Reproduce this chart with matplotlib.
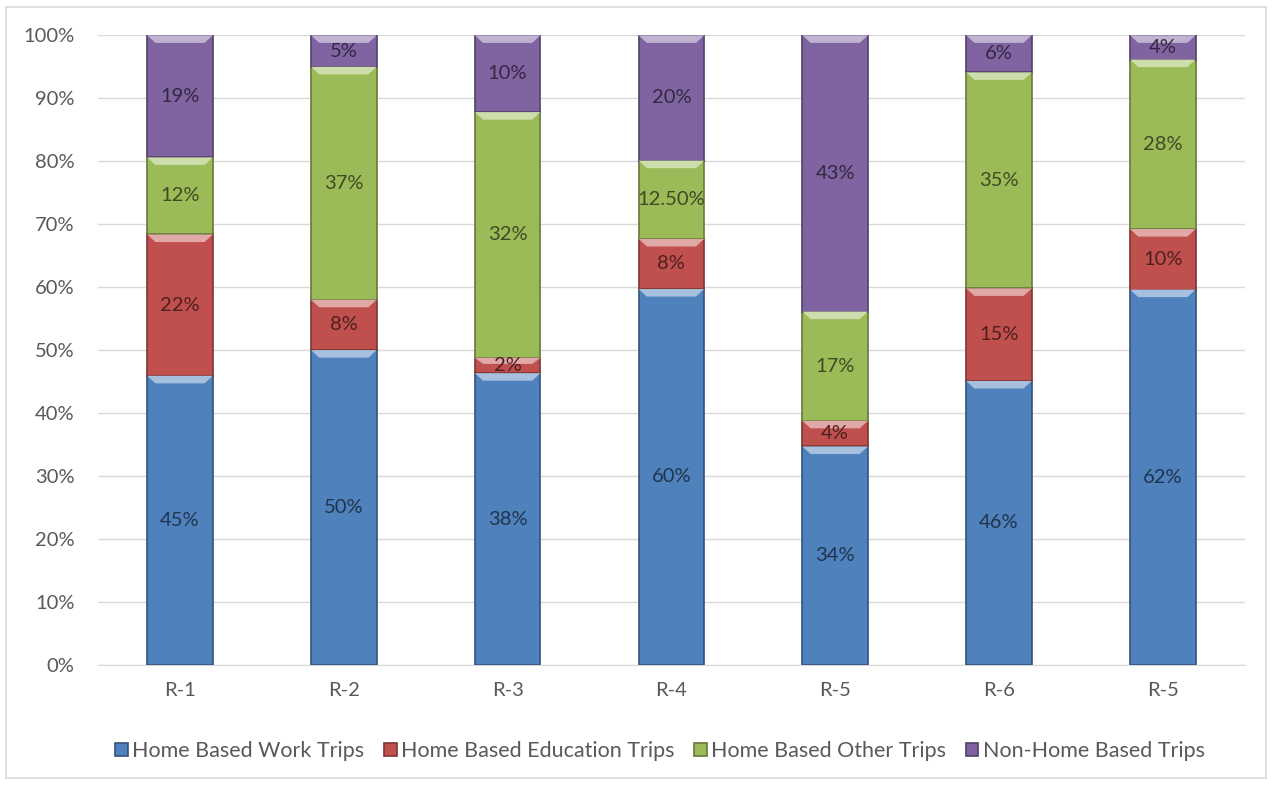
import matplotlib.pyplot as plt
import matplotlib.colors as mcolors
from matplotlib.patches import Polygon, Rectangle
import numpy as np

plt.rcParams['font.family'] = ['Lato', 'DejaVu Sans']

regions = ["R-1", "R-2", "R-3", "R-4", "R-5", "R-6", "R-5"]
series = ["Home Based Work Trips", "Home Based Education Trips",
          "Home Based Other Trips", "Non-Home Based Trips"]
work = [45, 50, 38, 60, 34, 46, 62]
education = [22, 8, 2, 8, 4, 15, 10]
other = [12, 37, 32, 12.5, 17, 35, 28]
non_home = [19, 5, 10, 20, 43, 6, 4]
colors = ["#4F81BD", "#C0504D", "#9BBB59", "#8064A2"]

values = np.array([work, education, other, non_home], dtype=float)
shares = values / values.sum(axis=0)

fig = plt.figure(figsize=(12.74, 7.85), dpi=100)
fig.patches.append(Rectangle((0.005, 0.009), 0.989, 0.982, transform=fig.transFigure,
                             fill=False, edgecolor="#d9d9d9", linewidth=1.2))
ax = fig.add_axes([0.077, 0.153, 0.900, 0.802])

x = np.arange(len(regions))
width = 0.4
bottom = np.zeros(len(regions))


def lighten(c, amt):
    r = np.array(mcolors.to_rgb(c))
    return tuple(r + (1 - r) * amt)


def darken(c, amt):
    return tuple(np.array(mcolors.to_rgb(c)) * (1 - amt))


for i, name in enumerate(series):
    bars = ax.bar(x, shares[i], width, bottom=bottom, color=colors[i],
                  edgecolor=darken(colors[i], 0.35), linewidth=1.2,
                  label=name, zorder=3)
    for j, b in enumerate(bars):
        x0, w = b.get_x(), b.get_width()
        top = bottom[j] + shares[i][j]
        # light bevel on the top of each segment
        dy = min(0.012, shares[i][j] * 0.4)
        dx = 0.05
        ax.add_patch(Polygon([(x0, top), (x0 + w, top), (x0 + w - dx, top - dy),
                              (x0 + dx, top - dy)], closed=True,
                             facecolor=lighten(colors[i], 0.5), edgecolor="none",
                             zorder=4))
        val = values[i][j]
        txt = "12.50%" if val == 12.5 else f"{val:.0f}%"
        ax.text(x[j], bottom[j] + shares[i][j] / 2, txt, ha="center", va="center",
                fontsize=14.5, color=darken(colors[i], 0.6), zorder=5)
    bottom += shares[i]

ax.set_ylim(0, 1)
ax.set_xlim(-0.5, len(regions) - 0.5)
ax.set_yticks(np.arange(0, 1.01, 0.1))
ax.set_yticklabels([f"{int(round(t * 100))}%" for t in np.arange(0, 1.01, 0.1)])
ax.set_xticks(x)
ax.set_xticklabels(regions)
ax.tick_params(axis="both", length=0, labelsize=14.5, colors="#595959")
ax.tick_params(axis="x", pad=12)
ax.tick_params(axis="y", pad=17)
ax.yaxis.grid(True, color="#d9d9d9", linewidth=1, zorder=0)
ax.set_axisbelow(True)
for s in ["top", "right", "left"]:
    ax.spines[s].set_visible(False)
ax.spines["bottom"].set_color("#d9d9d9")

leg = ax.legend(loc="upper center", bbox_to_anchor=(0.49, -0.09), ncol=4,
                frameon=False, fontsize=15.5, handlelength=0.6, handleheight=0.6,
                handletextpad=0.2, columnspacing=0.9)
for t in leg.get_texts():
    t.set_color("#595959")

fig.savefig("out.png", dpi=100)
